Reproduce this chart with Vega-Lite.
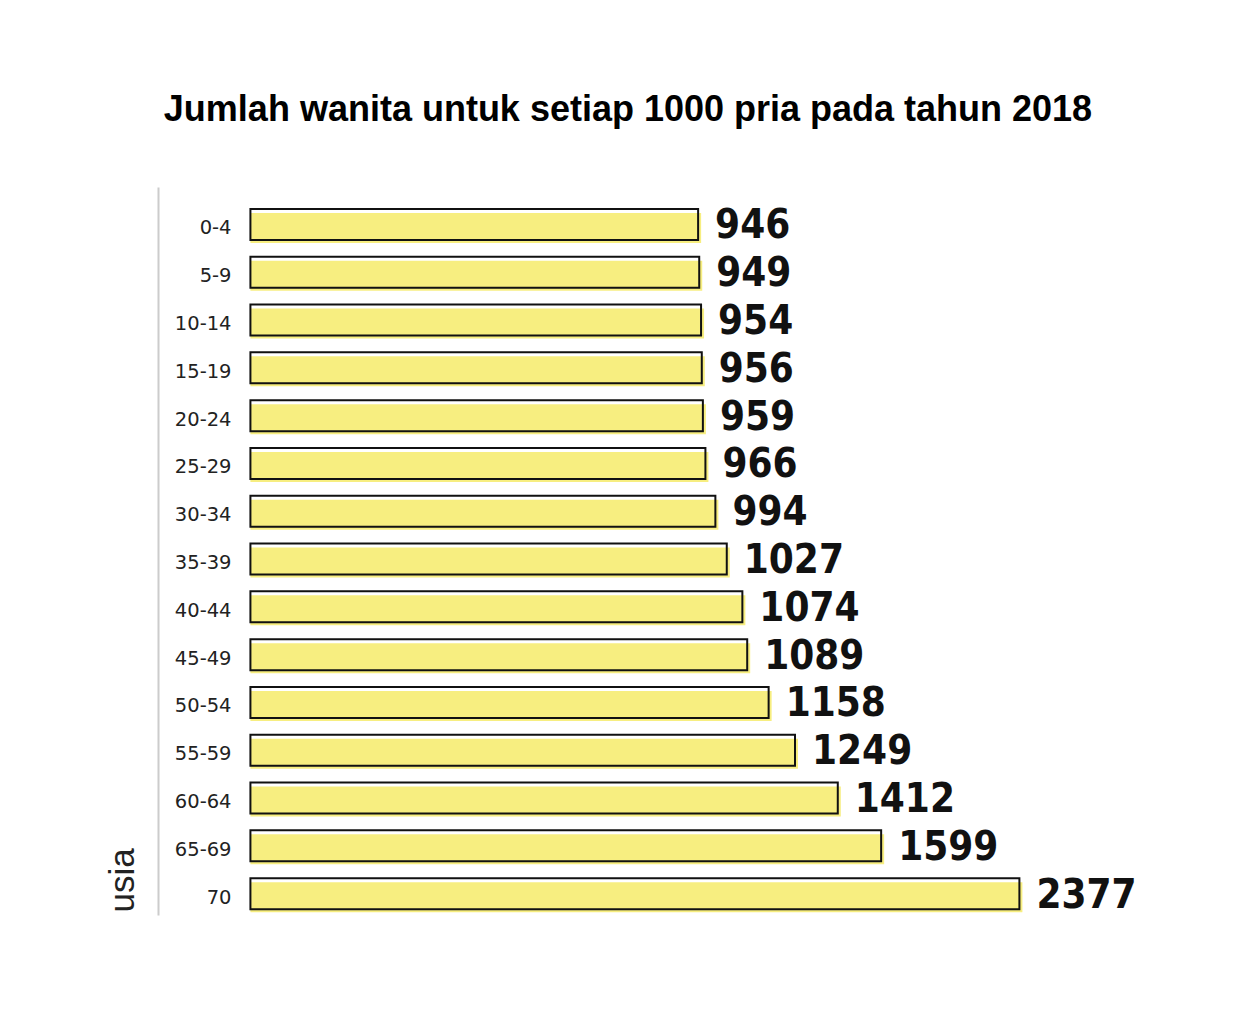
{
  "$schema": "https://vega.github.io/schema/vega-lite/v6.json",
  "autosize": {"type": "none"},
  "padding": {"left": 158, "top": 187, "right": 162, "bottom": 109},
  "width": 940,
  "height": 728,
  "background": "white",
  "title": {
    "text": "Jumlah wanita untuk setiap 1000 pria pada tahun 2018",
    "font": "Liberation Sans",
    "fontSize": 36,
    "fontWeight": "bold",
    "color": "#000000",
    "anchor": "middle",
    "offset": 58
  },
  "data": {
    "values": [
      {"usia": "0-4", "jumlah": 946},
      {"usia": "5-9", "jumlah": 949},
      {"usia": "10-14", "jumlah": 954},
      {"usia": "15-19", "jumlah": 956},
      {"usia": "20-24", "jumlah": 959},
      {"usia": "25-29", "jumlah": 966},
      {"usia": "30-34", "jumlah": 994},
      {"usia": "35-39", "jumlah": 1027},
      {"usia": "40-44", "jumlah": 1074},
      {"usia": "45-49", "jumlah": 1089},
      {"usia": "50-54", "jumlah": 1158},
      {"usia": "55-59", "jumlah": 1249},
      {"usia": "60-64", "jumlah": 1412},
      {"usia": "65-69", "jumlah": 1599},
      {"usia": "70", "jumlah": 2377}
    ]
  },
  "encoding": {
    "y": {
      "field": "usia",
      "type": "nominal",
      "sort": null,
      "scale": {"paddingInner": 0.35, "paddingOuter": 0.29, "align": 0.79},
      "axis": {
        "title": "usia",
        "titleFont": "Liberation Sans",
        "titleFontSize": 35,
        "titleFontWeight": "normal",
        "titleColor": "#222222",
        "titleAngle": -90,
        "titleAlign": "left",
        "titleBaseline": "middle",
        "titleX": -36,
        "titleY": 725,
        "labelFont": "DejaVu Sans",
        "labelFontSize": 19.5,
        "labelColor": "#222222",
        "labelAlign": "right",
        "labelBaseline": "middle",
        "labelPadding": -73,
        "labelOffset": 4,
        "ticks": false,
        "tickSize": 0,
        "grid": false,
        "domain": true,
        "domainColor": "#cccccc",
        "domainWidth": 2
      }
    }
  },
  "layer": [
    {
      "mark": {"type": "bar", "color": "#f7ee80", "size": 30, "xOffset": 3, "yOffset": 3.5},
      "encoding": {
        "x": {"field": "jumlah", "type": "quantitative", "scale": {"type": "log", "domain": [201, 2978], "nice": false}, "axis": null},
        "x2": {"datum": 262}
      }
    },
    {
      "mark": {"type": "bar", "filled": false, "color": "#111111", "strokeWidth": 2, "size": 31},
      "encoding": {
        "x": {"field": "jumlah", "type": "quantitative"},
        "x2": {"datum": 262}
      }
    },
    {
      "mark": {"type": "text", "align": "left", "baseline": "middle", "dx": 17, "dy": 2, "font": "DejaVu Sans Condensed", "fontWeight": "bold", "fontSize": 40, "color": "#111111"},
      "encoding": {
        "x": {"field": "jumlah", "type": "quantitative"},
        "text": {"field": "jumlah", "type": "quantitative", "format": "d"}
      }
    }
  ],
  "config": {"view": {"stroke": null}}
}
